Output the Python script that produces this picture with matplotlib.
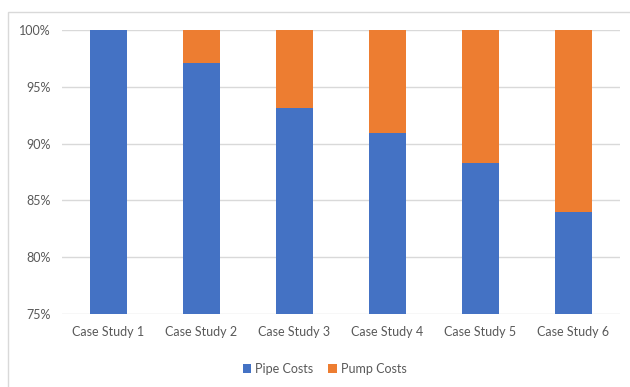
import numpy as np
import matplotlib.pyplot as plt
from matplotlib.patches import Rectangle
from matplotlib.ticker import PercentFormatter

plt.rcParams['font.family'] = ['Lato', 'DejaVu Sans']

# data (share of total cost, %)
cases = ['Case Study 1', 'Case Study 2', 'Case Study 3',
         'Case Study 4', 'Case Study 5', 'Case Study 6']
pipe = [100.0, 97.1, 93.1, 90.9, 88.3, 84.0]
pump = [0.0, 2.9, 6.9, 9.1, 11.7, 16.0]

blue = '#4472C4'
orange = '#ED7D31'
text_col = '#595959'

fig = plt.figure(figsize=(6.3, 3.87), dpi=100)
ax = fig.add_axes([0.098, 0.189, 0.886, 0.733])

# outer chart frame like in the spreadsheet
fig.patches.append(Rectangle((8 / 630, -0.05), 1.1, 1 - 12 / 387 + 0.05,
                             transform=fig.transFigure, fill=False,
                             edgecolor='#d9d9d9', lw=1))

x = np.arange(len(cases))
ax.bar(x, pipe, width=0.4, color=blue, label='Pipe Costs', zorder=3)
ax.bar(x, pump, width=0.4, bottom=pipe, color=orange, label='Pump Costs', zorder=3)

ax.set_ylim(75, 100)
ax.set_xlim(-0.5, len(cases) - 0.5)
ax.set_yticks(np.arange(75, 101, 5))
ax.yaxis.set_major_formatter(PercentFormatter(decimals=0))
ax.set_xticks(x)
ax.set_xticklabels(cases)
ax.grid(axis='y', color='#d9d9d9', lw=1, zorder=0)
for s in ax.spines.values():
    s.set_visible(False)
ax.tick_params(length=0, colors=text_col, labelsize=9)
ax.tick_params(axis='x', pad=9)
ax.tick_params(axis='y', pad=8)

fig.legend(loc='center', bbox_to_anchor=(0.515, 0.046), ncol=2, frameon=False,
           fontsize=9, labelcolor=text_col, handlelength=0.7, handleheight=0.7,
           handletextpad=0.3, columnspacing=1.2)

fig.savefig('out.png', dpi=100)
